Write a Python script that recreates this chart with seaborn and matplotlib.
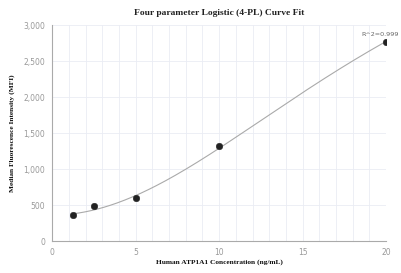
import numpy as np
import pandas as pd
import seaborn as sns
import matplotlib
matplotlib.use("Agg")
import matplotlib.pyplot as plt
from matplotlib.ticker import FuncFormatter, MultipleLocator

conc = [1.25, 2.5, 5, 10, 20]
mfi = [361, 482, 597, 1324, 2760]
r2_label = "R^2=0.999"

df = pd.DataFrame({"conc": conc, "mfi": mfi})

# 4PL fit (1/y^2 weighted) via simple Levenberg-Marquardt, several starts
x = np.array(conc, float)
y = np.array(mfi, float)
w = 1.0 / y

def f(p, x):
    A, B, C, D = p
    return D + (A - D) / (1 + (x / C) ** B)

def sse(p):
    return np.sum((w * (y - f(p, x))) ** 2)

def fit(p):
    p = np.array(p, float)
    lam = 1e-2
    for _ in range(3000):
        r = w * (y - f(p, x))
        J = np.zeros((len(x), 4))
        for i in range(4):
            dp = np.zeros(4); dp[i] = 1e-6 * max(1, abs(p[i]))
            J[:, i] = w * (f(p + dp, x) - f(p, x)) / dp[i]
        H = J.T @ J
        g = J.T @ r
        try:
            step = np.linalg.solve(H + lam * np.diag(np.diag(H) + 1e-12), g)
        except np.linalg.LinAlgError:
            break
        pn = p + step
        if pn[2] > 0 and pn[1] > 0 and np.all(np.isfinite(pn)) and sse(pn) < sse(p):
            p = pn; lam *= 0.5
        else:
            lam *= 3
        if lam > 1e12:
            break
    return p, sse(p)

best = None
for B0 in [1.0, 1.5, 2.0, 3.0]:
    for C0 in [10.0, 30.0, 100.0]:
        for D0 in [5000.0, 20000.0, 100000.0]:
            p, s = fit([350.0, B0, C0, D0])
            if np.all(np.isfinite(p)) and (best is None or s < best[1]):
                best = (p, s)
p = best[0]
xs = np.linspace(1.25, 20, 200)
curve = pd.DataFrame({"conc": xs, "mfi": f(p, xs)})

sns.set_style("white")
fig = plt.figure(figsize=(4.01, 2.73), dpi=100)
ax = fig.add_axes([0.130, 0.117, 0.833, 0.791])

sns.lineplot(data=curve, x="conc", y="mfi", ax=ax, color="#aaaaaa", linewidth=0.8)
sns.scatterplot(data=df, x="conc", y="mfi", ax=ax, color="#222222", s=22, edgecolor="#222222", zorder=5)

ax.set_xlim(0, 20)
ax.set_ylim(0, 3000)
ax.xaxis.set_major_locator(MultipleLocator(5))
ax.xaxis.set_minor_locator(MultipleLocator(1))
ax.yaxis.set_major_locator(MultipleLocator(500))
ax.yaxis.set_major_formatter(FuncFormatter(lambda v, _: f"{int(v):,}"))
ax.grid(True, which="both", axis="x", color="#eaecf4", linewidth=0.6)
ax.grid(True, which="major", axis="y", color="#eaecf4", linewidth=0.6)
ax.set_axisbelow(True)
for s in ["top", "right"]:
    ax.spines[s].set_visible(False)
for s in ["left", "bottom"]:
    ax.spines[s].set_color("#aaaaaa")
    ax.spines[s].set_linewidth(0.8)
ax.tick_params(axis="both", which="major", length=3, width=0.6, color="#aaaaaa",
               labelsize=5.5, labelcolor="#999999", pad=2)
ax.tick_params(axis="x", which="minor", length=0)

serif = ["Liberation Serif", "DejaVu Serif"]
ax.set_xlabel("Human ATP1A1 Concentration (ng/mL)", fontsize=5.3, fontweight="bold",
              family=serif, color="#111111")
ax.xaxis.set_label_coords(0.5, -0.082)
ax.set_ylabel("Median Fluorescence Intensity (MFI)", fontsize=5.3, fontweight="bold",
              family=serif, color="#111111")
ax.yaxis.set_label_coords(-0.111, 0.5)
ax.set_title("Four parameter Logistic (4-PL) Curve Fit", fontsize=6.8, fontweight="bold",
             family=serif, color="#222222", pad=7)
ax.annotate(r2_label, xy=(conc[-1], mfi[-1]), xytext=(9, 4), textcoords="offset points",
            ha="right", va="bottom", fontsize=4.6, color="#666666", annotation_clip=False)

fig.savefig("out.png", dpi=100)
